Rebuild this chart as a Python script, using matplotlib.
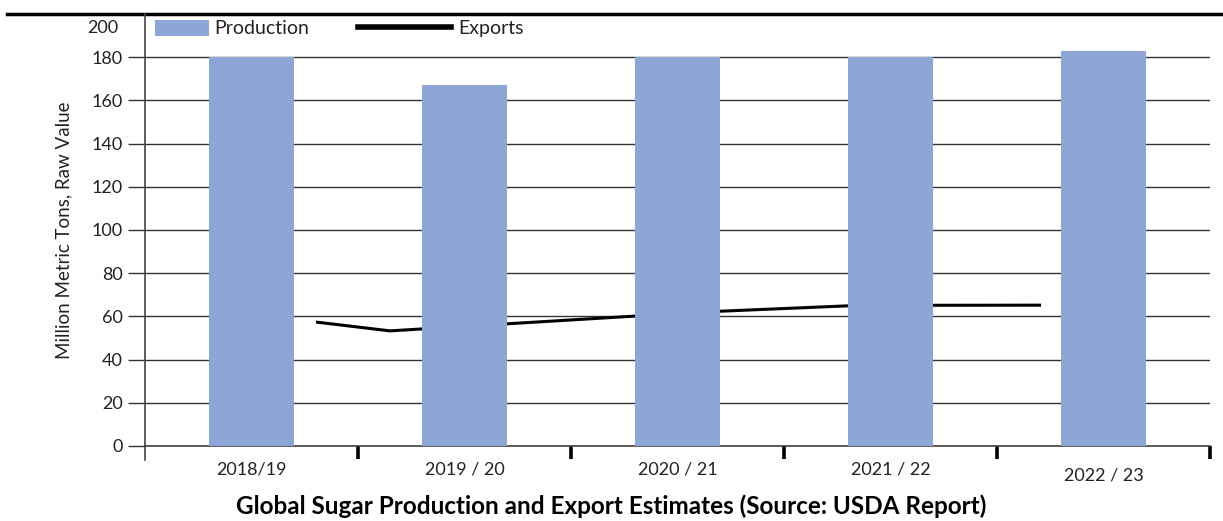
import matplotlib
matplotlib.use('Agg')
import matplotlib.pyplot as plt
from matplotlib.transforms import ScaledTranslation

plt.rcParams['font.family'] = ['Lato', 'DejaVu Sans']

seasons = ['2018/19', '2019 / 20', '2020 / 21', '2021 / 22', '2022 / 23']
production = [180.0, 167.3, 180.0, 180.0, 183.1]

# exports line sits between the bars, positions in category units
export_x = [0.31, 0.65, 2.13, 2.85, 3.70]
exports = [57.3, 53.3, 62.1, 65.1, 65.2]

y_ticks = [0, 20, 40, 60, 80, 100, 120, 140, 160, 180]

bar_color = '#8EA6D6'
text_color = '#222222'

fig = plt.figure(figsize=(12.23, 5.21), dpi=100)
ax = fig.add_axes([145/1223, 1 - 446/521, (1210 - 145)/1223, (446 - 14)/521])

x = list(range(len(seasons)))
ax.plot(export_x, exports, color='black', lw=2.2, zorder=2, label='Exports')
ax.bar(x, production, width=0.395, color=bar_color, zorder=3, label='Production')

ax.set_xlim(-0.5, 4.5)
ax.set_ylim(0, 200)

# grid
ax.set_yticks(y_ticks)
ax.set_yticklabels([str(v) for v in y_ticks], fontsize=13, color=text_color)
ax.yaxis.grid(True, color='#333333', lw=1.0, zorder=0)
ax.set_axisbelow(True)
ax.tick_params(axis='y', length=12, width=1.0, color='#333333', pad=4)

# top 200 line across the whole width
ax.axhline(200, xmin=-0.13, xmax=1.02, color='black', lw=2.5, clip_on=False)
ax.text(-0.025, 193.5, '200', transform=ax.get_yaxis_transform(),
        ha='right', va='center', fontsize=13, color=text_color)

for s in ['top', 'right']:
    ax.spines[s].set_visible(False)
ax.spines['left'].set_color('#444444')
ax.spines['left'].set_linewidth(1.2)
ax.spines['left'].set_bounds(-6.5, 200)
ax.spines['bottom'].set_color('#444444')
ax.spines['bottom'].set_linewidth(1.2)

# x ticks: thick marks at category boundaries, labels at centres
ax.set_xticks([0.5, 1.5, 2.5, 3.5, 4.5])
ax.set_xticklabels([])
ax.tick_params(axis='x', which='major', length=9, width=2.6, color='black')
ax.set_xticks(x, minor=True)
ax.set_xticklabels(seasons, minor=True, fontsize=13, color=text_color)
ax.tick_params(axis='x', which='minor', length=0, pad=11)
lab = ax.xaxis.get_minorticklabels()[-1]
lab.set_transform(lab.get_transform() + ScaledTranslation(0, -6/100, fig.dpi_scale_trans))

ax.set_ylabel('Million Metric Tons, Raw Value', fontsize=13.5, color=text_color, labelpad=14)

fig.text(0.5, 1 - 506/521, 'Global Sugar Production and Export Estimates (Source: USDA Report)',
         ha='center', va='center', fontsize=17.5, fontweight='bold', color='black')

# legend: two pieces since the handles have different lengths
h_line, l_line = ax.get_legend_handles_labels()
leg1 = fig.legend([h_line[1]], [l_line[1]], loc='upper left',
                  bbox_to_anchor=(155/1223, 1 - 20/521), frameon=False,
                  fontsize=14, handlelength=2.8, handleheight=0.85,
                  handletextpad=0.25, borderpad=0, borderaxespad=0)
leg2 = fig.legend([h_line[0]], [l_line[0]], loc='upper left',
                  bbox_to_anchor=(358/1223, 1 - 20/521), frameon=False,
                  fontsize=14, handlelength=4.8, handletextpad=0.35,
                  borderpad=0, borderaxespad=0)
leg2.get_lines()[0].set_linewidth(4)
for t in leg1.get_texts() + leg2.get_texts():
    t.set_color(text_color)

plt.savefig('out.png', dpi=100)
